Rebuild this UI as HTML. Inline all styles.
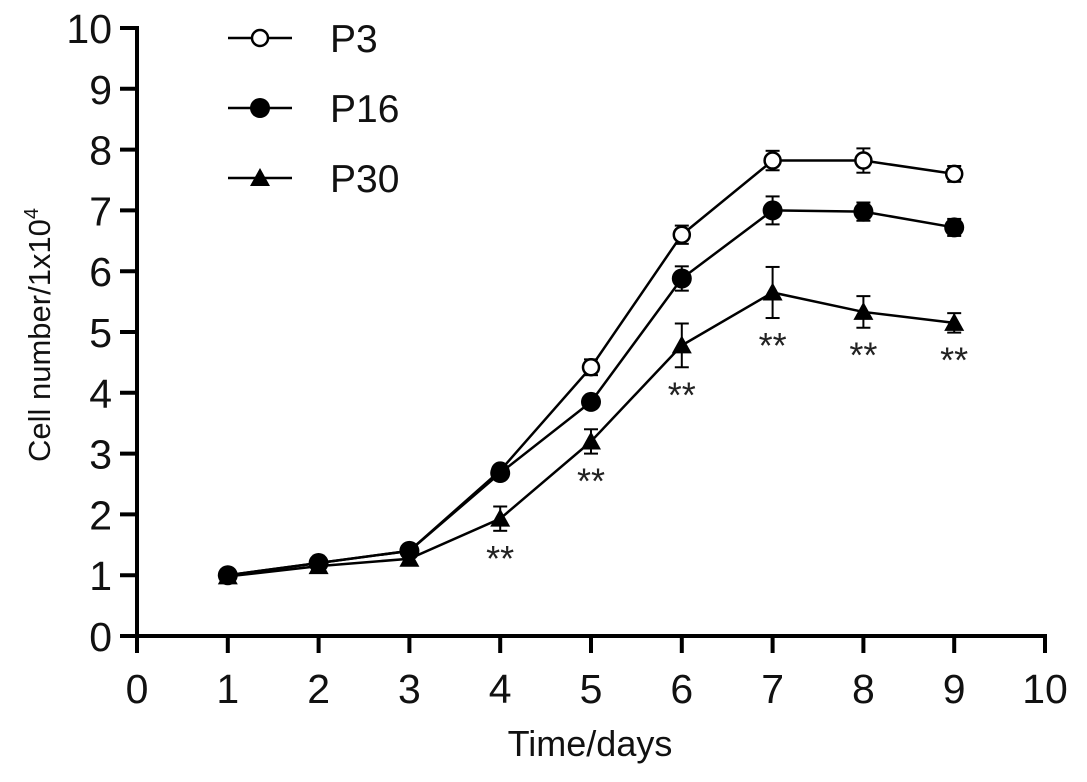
<!DOCTYPE html>
<html><head><meta charset="utf-8"><style>
body{margin:0;background:#fff}
svg{display:block;font-family:"Liberation Sans",Arial,sans-serif}
</style></head><body>
<svg id="c" width="1087" height="782"></svg>
<script>
const days=[1,2,3,4,5,6,7,8,9];
const p3=[1,1.2,1.4,2.72,4.42,6.6,7.82,7.82,7.6];
const p3err=[0.05,0.05,0.06,0.08,0.13,0.15,0.16,0.2,0.13];
const p16=[1,1.2,1.4,2.68,3.85,5.88,7.0,6.98,6.72];
const p16err=[0.05,0.05,0.06,0.08,0.08,0.2,0.23,0.15,0.14];
const p30=[0.98,1.15,1.27,1.93,3.2,4.78,5.65,5.33,5.15];
const p30err=[0.05,0.05,0.06,0.2,0.2,0.36,0.42,0.26,0.16];
const sigDays=[4,5,6,7,8,9];
const xTicks=[0,1,2,3,4,5,6,7,8,9,10];
const yTicks=[0,1,2,3,4,5,6,7,8,9,10];
const NS='http://www.w3.org/2000/svg';
const svg=document.getElementById('c');
const X=v=>137+v*90.8, Y=v=>636-v*60.8;
function el(t,a,p){const e=document.createElementNS(NS,t);for(const k in a)e.setAttribute(k,a[k]);(p||svg).appendChild(e);return e;}
let ax=el('line',{x1:X(0),y1:Y(0),x2:X(10)+2,y2:Y(0),stroke:'#000','stroke-width':4});

let ay=el('line',{x1:X(0),y1:Y(0)+2,x2:X(0),y2:Y(10)-2,stroke:'#000','stroke-width':4});

xTicks.forEach(t=>{el('line',{x1:X(t),y1:Y(0),x2:X(t),y2:Y(0)+17,stroke:'#000','stroke-width':4});
 const tx=el('text',{x:X(t),y:703,'font-size':41,'text-anchor':'middle',fill:'#111'});tx.textContent=t;
 });
yTicks.forEach(t=>{el('line',{x1:X(0)-17,y1:Y(t),x2:X(0),y2:Y(t),stroke:'#000','stroke-width':4});
 const tx=el('text',{x:112,y:Y(t)+15,'font-size':41,'text-anchor':'end',fill:'#111'});tx.textContent=t;
 });
let xt=el('text',{x:590,y:756,'font-size':36,'text-anchor':'middle',fill:'#111'});xt.textContent='Time/days';

let yt=el('text',{transform:'translate(50,335) rotate(-90)','font-size':31,'text-anchor':'middle',fill:'#111'});
yt.innerHTML='Cell number/1x10<tspan dy="-12" font-size="20">4</tspan>';

function marker(kind,x,y,g){
 if(kind==='open')return el('circle',{cx:x,cy:y,r:8,fill:'#fff',stroke:'#000','stroke-width':2.5},g);
 if(kind==='fill')return el('circle',{cx:x,cy:y,r:10,fill:'#000'},g);
 return el('polygon',{points:`${x},${y-10} ${x+10},${y+8} ${x-10},${y+8}`,fill:'#000'},g);
}
function series(name,vals,errs,kind){
 const g=el('g',{});
 
 el('polyline',{points:days.map((d,i)=>X(d)+','+Y(vals[i])).join(' '),fill:'none',stroke:'#000','stroke-width':2.5},g);
 days.forEach((d,i)=>{const x=X(d),y1=Y(vals[i]+errs[i]),y2=Y(vals[i]-errs[i]);
  el('line',{x1:x,y1:y1,x2:x,y2:y2,stroke:'#000','stroke-width':2},g);
  el('line',{x1:x-7,y1:y1,x2:x+7,y2:y1,stroke:'#000','stroke-width':2},g);
  el('line',{x1:x-7,y1:y2,x2:x+7,y2:y2,stroke:'#000','stroke-width':2},g);});
 days.forEach((d,i)=>{const m=marker(kind,X(d),Y(vals[i]),g);
  });
}
series('p30',p30,p30err,'tri');
series('p3',p3,p3err,'open');
series('p16',p16,p16err,'fill');
sigDays.forEach(d=>{const i=days.indexOf(d);
 const s=el('text',{x:X(d),y:Y(p30[i]-p30err[i])+40,'font-size':36,'text-anchor':'middle',fill:'#222'});s.textContent='**';
 });
const legend=[['P3','open',38],['P16','fill',108],['P30','tri',178]];
legend.forEach(([n,k,y])=>{const g=el('g',{});
 
 el('line',{x1:228,y1:y,x2:292,y2:y,stroke:'#000','stroke-width':2.5},g);
 marker(k,260,y,g);
 const t=el('text',{x:330,y:y+14,'font-size':39,fill:'#111'},g);t.textContent=n;});
</script>
</body></html>
